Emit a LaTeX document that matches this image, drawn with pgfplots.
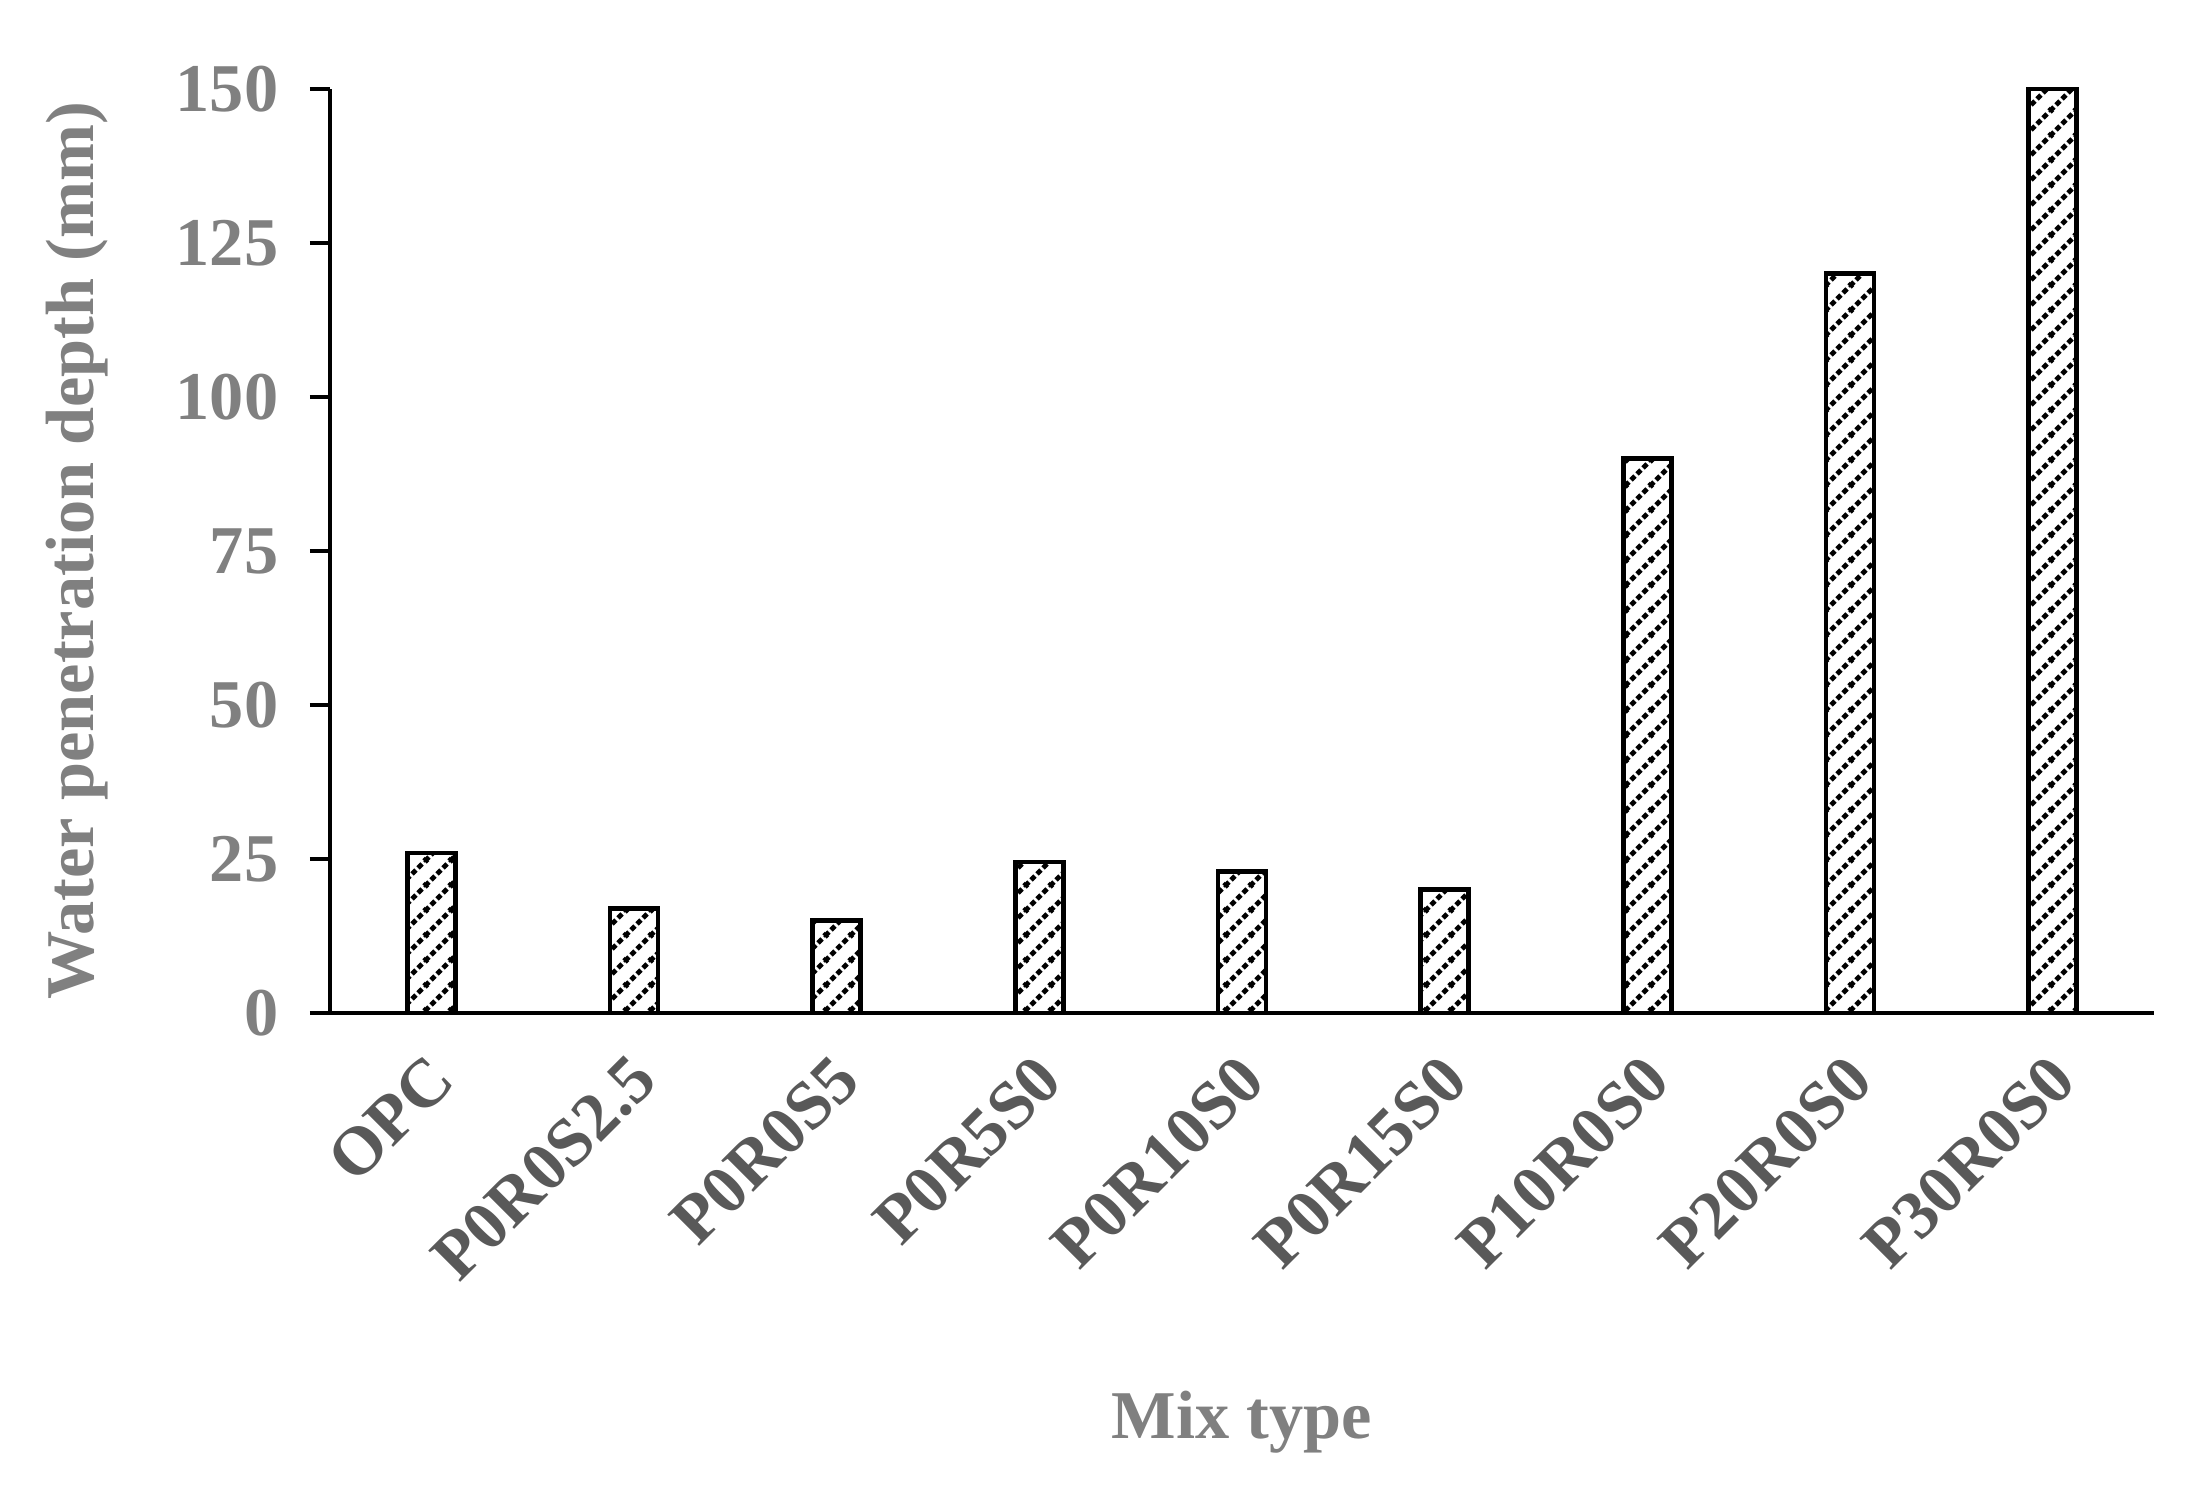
\documentclass[border=0pt]{standalone}
\usepackage{fontspec}
\setmainfont{Liberation Serif}
\usepackage{pgfplots}
\pgfplotsset{compat=1.18}
\usetikzlibrary{patterns.meta}
\definecolor{labelGray}{HTML}{808080}
\definecolor{catGray}{HTML}{595959}

% hatch: dashed up-right diagonals, 7.5pt tile
\pgfdeclarepattern{
  name=dashdiag,
  type=uncolored,
  bottom left={\pgfpoint{0pt}{0pt}},
  top right={\pgfpoint{7.5pt}{7.5pt}},
  tile size={\pgfpoint{7.5pt}{7.5pt}},
  code={
    \pgfsetlinewidth{1.5pt}
    \pgfsetdash{{1.75pt}{0.9017pt}}{0pt}
    \pgfpathmoveto{\pgfpoint{-7.5pt}{-7.5pt}}\pgfpathlineto{\pgfpoint{15pt}{15pt}}
    \pgfpathmoveto{\pgfpoint{-15pt}{-7.5pt}}\pgfpathlineto{\pgfpoint{7.5pt}{15pt}}
    \pgfpathmoveto{\pgfpoint{0pt}{-7.5pt}}\pgfpathlineto{\pgfpoint{22.5pt}{15pt}}
    \pgfusepath{stroke}
  }
}

\begin{document}
\begin{tikzpicture}
  \useasboundingbox (-99pt,-141.6pt) rectangle (558.9pt,303.9pt);
  \begin{axis}[
    at={(0,0)}, anchor=south west,
    scale only axis,
    width=547.2pt,
    height=277.2pt,
    xmin=-0.5, xmax=8.5,
    ymin=0, ymax=150,
    xtick={0,1,2,3,4,5,6,7,8},
    xticklabels={OPC,P0R0S2.5,P0R0S5,P0R5S0,P0R10S0,P0R15S0,P10R0S0,P20R0S0,P30R0S0},
    ytick={0,25,50,75,100,125,150},
    axis x line*=bottom,
    axis y line*=left,
    axis line style={draw=black, line width=1.3pt, -},
    tick align=outside,
    major tick length=6pt,
    ytick style={draw=black, line width=1.3pt},
    xtick style={draw=none},
    /pgf/number format/assume math mode=true,
    yticklabel style={font=\fontsize{20.5}{22}\selectfont\bfseries, text=labelGray},
    xticklabel style={font=\fontsize{20.5}{22}\selectfont\bfseries, text=catGray,
      xshift=5.5pt, rotate=45, anchor=east},
    xticklabel shift=8pt,
    yticklabel shift=6pt,
    ylabel={Water penetration depth (mm)},
    xlabel={Mix type},
    every axis y label/.style={at={(axis description cs:-0.1387,0.5)},
      rotate=90, anchor=center},
    every axis x label/.style={at={(axis description cs:0.5,-0.4426)},
      anchor=center},
    label style={font=\fontsize{20.5}{22}\selectfont\bfseries, text=labelGray},
    clip=false,
  ]
    \addplot[ybar, bar width=14.4pt, draw=black, line width=1.4pt,
      pattern=dashdiag, pattern color=black]
      coordinates {(0,26) (1,17) (2,15) (3,24.5) (4,23) (5,20) (6,90) (7,120) (8,150)};
  \end{axis}
\end{tikzpicture}
\end{document}
